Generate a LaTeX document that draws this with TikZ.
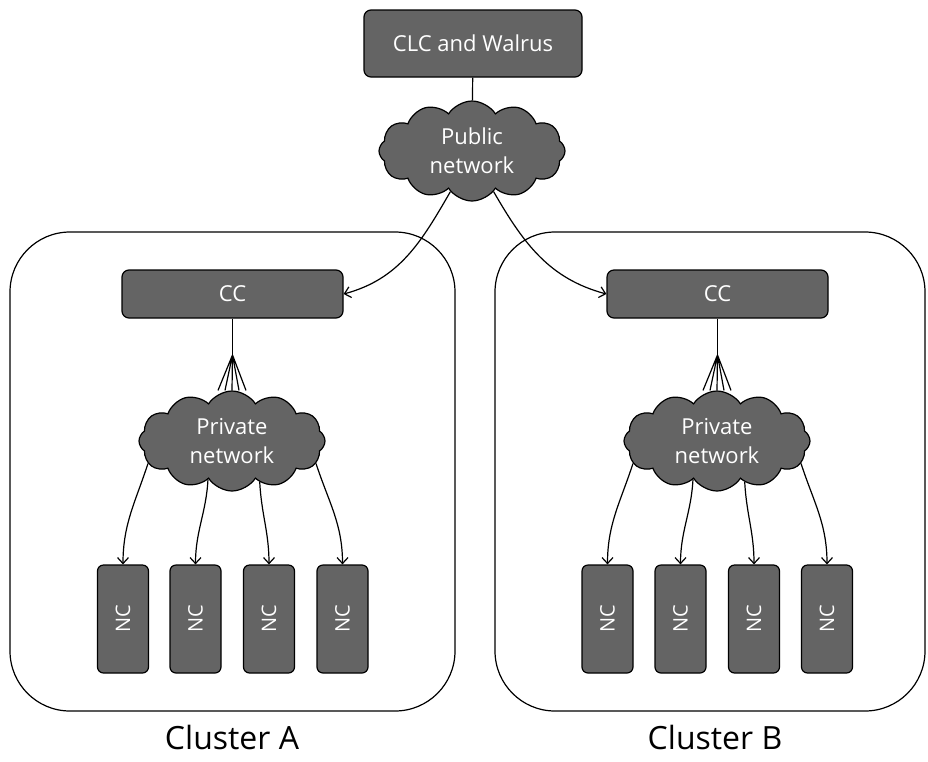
\documentclass[tikz,border=0pt]{standalone}
\usepackage{fontspec}
\setmainfont{Open Sans}
\usepackage{tikz}
\usetikzlibrary{shapes.symbols,arrows.meta}

\definecolor{boxgray}{RGB}{100,100,100}

\begin{document}
\begin{tikzpicture}[x=1pt,y=1pt,
                    line width=1.2pt,
                    >={Straight Barb[length=6pt,width=11pt]},
                    box/.style n args={2}{draw,fill=boxgray,text=white,
                    minimum width=#1,
                    minimum height=#2,
                    rounded corners=7pt,inner sep=0pt,
                    font=\fontsize{22}{29}\selectfont},
                    ncbox/.style={box={51pt}{108pt},rounded corners=6pt,
                    font=\fontsize{20}{24}\selectfont},
                    net/.style={cloud,cloud puffs=12,cloud puff arc=115,
                    cloud ignores aspect,draw,fill=boxgray,text=white,
                    align=center,inner sep=0pt,
                    minimum width=186pt,minimum height=100pt,
                    font=\fontsize{22}{29}\selectfont},
                    clst/.style n args={2}{draw,rounded corners=60pt,
                    minimum width=#1,
                    minimum height=#2},
                    clab/.style={font=\fontsize{32}{38}\selectfont}]
    \useasboundingbox (0,0) rectangle (928,-761);

    \node[box={218pt}{67pt}](clc) at (473,-43.5) {CLC and Walrus};
    \node[net](pub) at (472,-151) {Public\\network};

    \node[clst={445pt}{479pt}](clA) at (232.5,-471.5) {};
    \node[clst={430pt}{479pt}](clB) at (710,-471.5) {};
    \node[clab](labA) at (232,-737) {Cluster A};
    \node[clab](labB) at (715,-737) {Cluster B};

    \node[box={221pt}{48pt}](ccA) at (232.5,-294) {CC};
    \node[box={221pt}{48pt}](ccB) at (717.5,-294) {CC};
    \node[net](prvA) at (232,-441) {Private\\network};
    \node[net](prvB) at (717,-441) {Private\\network};

    \node[ncbox](ncA1) at (123,-619) {\rotatebox{90}{NC}};
    \node[ncbox](ncA2) at (195.5,-619) {\rotatebox{90}{NC}};
    \node[ncbox](ncA3) at (269,-619) {\rotatebox{90}{NC}};
    \node[ncbox](ncA4) at (342.5,-619) {\rotatebox{90}{NC}};
    \node[ncbox](ncB1) at (607.5,-619) {\rotatebox{90}{NC}};
    \node[ncbox](ncB2) at (680.5,-619) {\rotatebox{90}{NC}};
    \node[ncbox](ncB3) at (754,-619) {\rotatebox{90}{NC}};
    \node[ncbox](ncB4) at (827,-619) {\rotatebox{90}{NC}};

    \coordinate (fanA) at (232.5,-355);
    \coordinate (fanB) at (717.5,-355);

    \draw (clc) -- (pub);
    \draw[->] (pub.-118) to [out=-120,in=15] (ccA.east);
    \draw[->] (pub.-62) to [out=-60,in=165] (ccB.west);

    \draw[line width=1.8pt] (ccA) -- (fanA);
    \draw[line width=1.8pt] (ccB) -- (fanB);
    \draw (fanA) -- ([xshift=-14pt]prvA.north) (fanA) -- ([xshift=-7pt]prvA.north)
          (fanA) -- (prvA.north)
          (fanA) -- ([xshift=7pt]prvA.north) (fanA) -- ([xshift=14pt]prvA.north);
    \draw (fanB) -- ([xshift=-14pt]prvB.north) (fanB) -- ([xshift=-7pt]prvB.north)
          (fanB) -- (prvB.north)
          (fanB) -- ([xshift=7pt]prvB.north) (fanB) -- ([xshift=14pt]prvB.north);

    \draw[->] (prvA.-165) to [out=-108,in=90] (ncA1.north);
    \draw[->] (prvA.-122) to [out=-93,in=90] (ncA2.north);
    \draw[->] (prvA.-56) to [out=-87,in=90] (ncA3.north);
    \draw[->] (prvA.-15) to [out=-72,in=90] (ncA4.north);
    \draw[->] (prvB.-165) to [out=-108,in=90] (ncB1.north);
    \draw[->] (prvB.-122) to [out=-93,in=90] (ncB2.north);
    \draw[->] (prvB.-56) to [out=-87,in=90] (ncB3.north);
    \draw[->] (prvB.-15) to [out=-72,in=90] (ncB4.north);
\end{tikzpicture}
\end{document}
